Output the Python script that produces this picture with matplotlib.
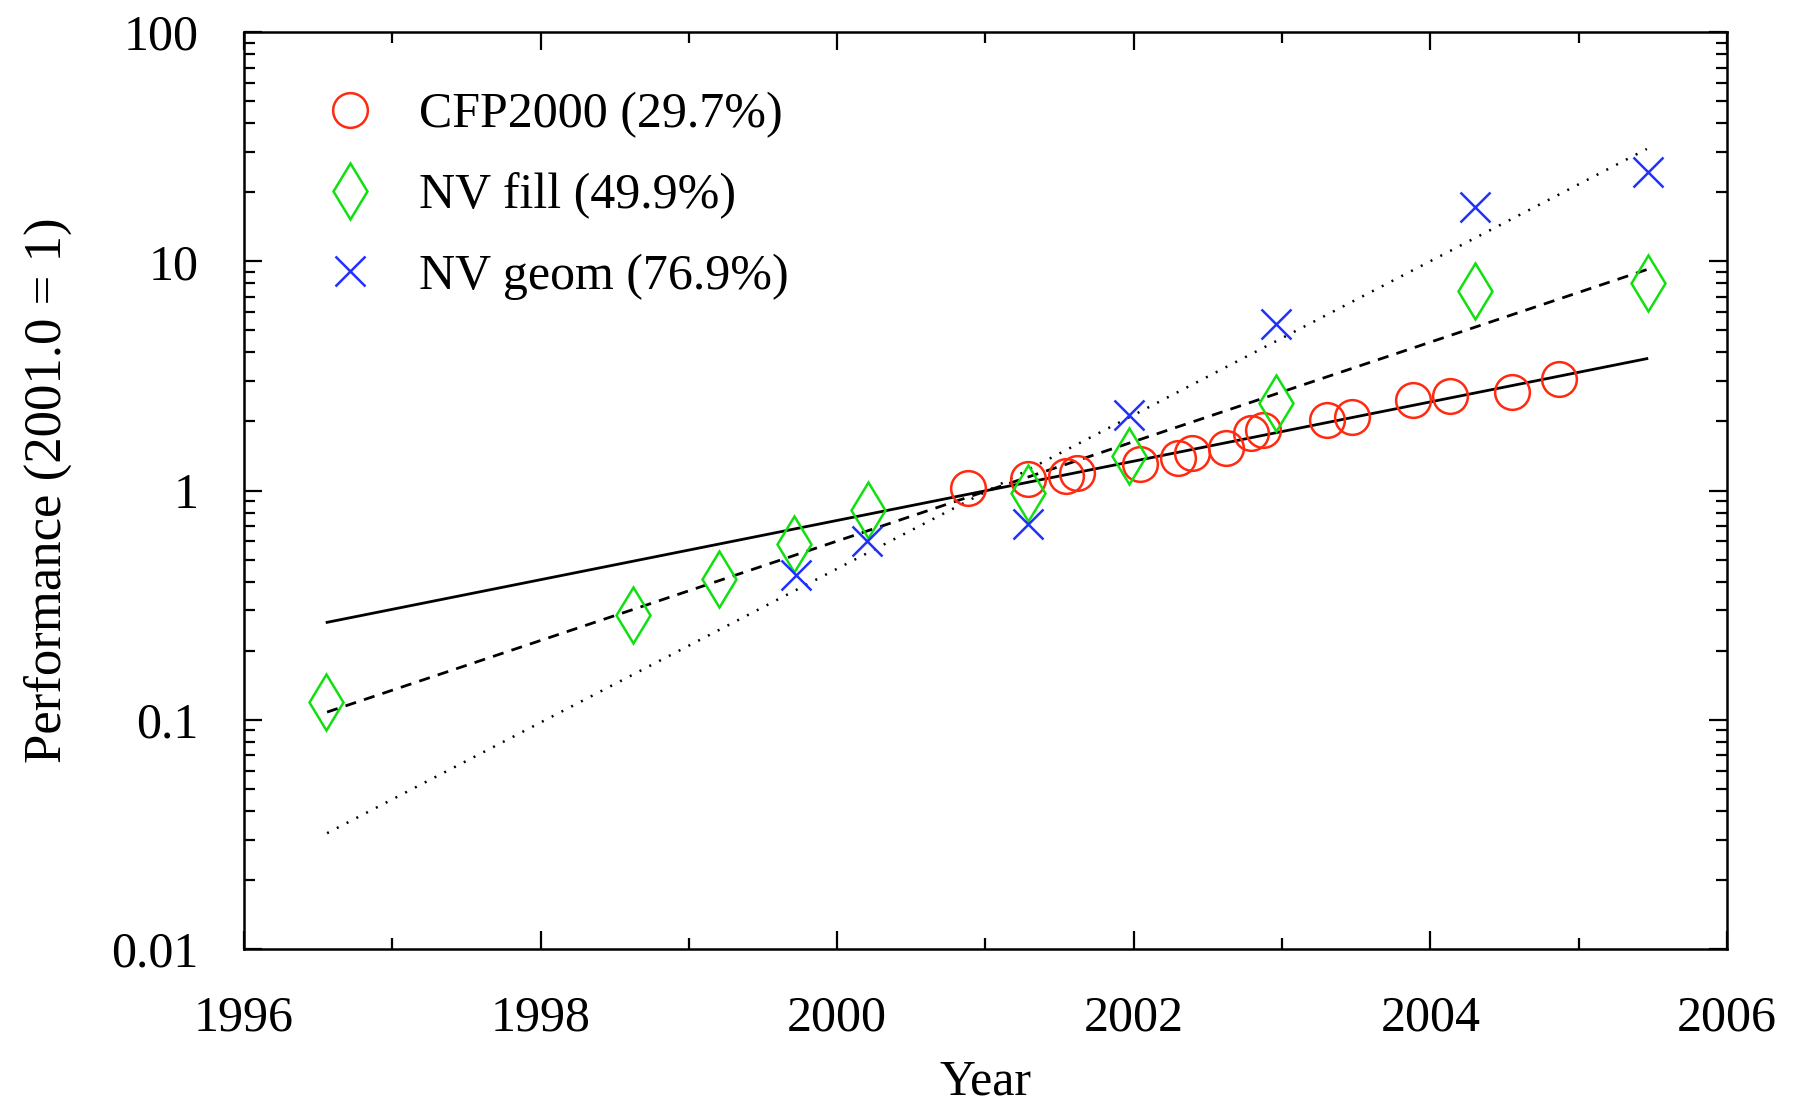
import numpy as np
import matplotlib
matplotlib.use("Agg")
import matplotlib.pyplot as plt
from matplotlib.ticker import FixedLocator, LogLocator, FixedFormatter, NullFormatter

plt.rcParams['font.family'] = ['Liberation Serif', 'DejaVu Serif']

# CFP2000 measurements (year, performance relative to 2001.0)
cfp_year = [2000.88, 2001.29, 2001.54, 2001.62, 2002.04, 2002.30, 2002.39, 2002.62,
            2002.79, 2002.87, 2003.30, 2003.47, 2003.88, 2004.13, 2004.55, 2004.87]
cfp_perf = [1.03, 1.12, 1.16, 1.19, 1.30, 1.38, 1.46, 1.53,
            1.78, 1.83, 2.04, 2.10, 2.48, 2.58, 2.70, 3.05]

# NVIDIA fill rate
fill_year = [1996.55, 1998.62, 1999.20, 1999.71, 2000.21, 2001.29, 2001.97, 2002.96, 2004.30, 2005.47]
fill_perf = [0.119, 0.285, 0.412, 0.582, 0.822, 0.977, 1.41, 2.40, 7.41, 8.04]

# NVIDIA geometry rate
geom_year = [1999.72, 2000.20, 2001.29, 2001.97, 2002.96, 2004.30, 2005.47]
geom_perf = [0.427, 0.60, 0.716, 2.14, 5.3, 17.2, 24.5]

# fitted trend lines (end points)
fit_year = [1996.56, 2005.46]
cfp_fit = [0.266, 3.76]
fill_fit = [0.108, 9.2]
geom_fit = [0.032, 30.9]

labels = ['CFP2000 (29.7%)', 'NV fill (49.9%)', 'NV geom (76.9%)']

fig = plt.figure(figsize=(17.97, 11.12), dpi=100)
ax = fig.add_axes([0.1358, 0.1466, 0.8252, 0.8246])

ax.plot(fit_year, cfp_fit, color='black', lw=2.0, ls='-')
ax.plot(fit_year, fill_fit, color='black', lw=2.0, ls=(0, (4, 3)))
ax.plot(fit_year, geom_fit, color='black', lw=1.8, ls=(0, (0.8, 3.6)))

h1, = ax.plot(cfp_year, cfp_perf, ls='none', marker='o', ms=25, mfc='none',
              mec='#ff2a10', mew=1.8, label=labels[0])
h2, = ax.plot(fill_year, fill_perf, ls='none', marker='d', ms=29, mfc='none',
              mec='#10e010', mew=1.8, label=labels[1])
h3, = ax.plot(geom_year, geom_perf, ls='none', marker='x', ms=21, mfc='none',
              mec='#2030ff', mew=1.8, label=labels[2])

ax.set_yscale('log')
ax.set_xlim(1996, 2006)
ax.set_ylim(0.01, 100)

ax.xaxis.set_major_locator(FixedLocator([1996, 1998, 2000, 2002, 2004, 2006]))
ax.xaxis.set_minor_locator(FixedLocator([1997, 1999, 2001, 2003, 2005]))
ax.set_xticklabels(['1996', '1998', '2000', '2002', '2004', '2006'])
ax.yaxis.set_major_locator(FixedLocator([0.01, 0.1, 1, 10, 100]))
ax.yaxis.set_major_formatter(FixedFormatter(['0.01', '0.1', '1', '10', '100']))
ax.yaxis.set_minor_locator(LogLocator(base=10, subs=np.arange(2, 10)))
ax.yaxis.set_minor_formatter(NullFormatter())

ax.tick_params(which='both', direction='in', top=True, right=True, width=1.6)
ax.tick_params(which='major', length=13, labelsize=36)
ax.tick_params(which='minor', length=8)
ax.tick_params(axis='x', which='major', pad=33)
ax.tick_params(axis='y', which='major', pad=33)

for s in ax.spines.values():
    s.set_linewidth(1.8)

ax.set_xlabel('Year', fontsize=36, labelpad=13)
ax.set_ylabel('Performance (2001.0 = 1)', fontsize=38, labelpad=28)

leg = ax.legend(handles=[h1, h2, h3], loc='upper left', frameon=False, fontsize=36,
                bbox_to_anchor=(0.0155, 0.984), handletextpad=0.63, labelspacing=0.68,
                handlelength=1.5)

fig.savefig('out.png', dpi=100)
